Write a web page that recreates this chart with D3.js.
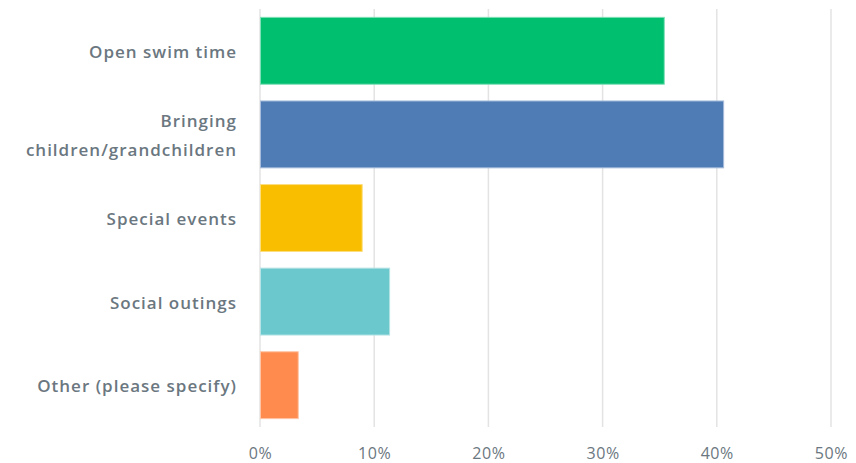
<!DOCTYPE html>
<html><head><meta charset="utf-8">
<script src="https://cdn.jsdelivr.net/npm/d3@7"></script>
<style>body{margin:0;background:#fff}svg{display:block}</style>
</head><body><svg id="c" width="856" height="463"></svg>
<script>
const categories = [["Open swim time"], ["Bringing", "children/grandchildren"], ["Special events"], ["Social outings"], ["Other (please specify)"]];
const values = [35.4, 40.6, 8.95, 11.35, 3.35];
const colors = ["#00bf6f", "#507cb6", "#f9be00", "#6bc8cd", "#ff8b4f"];
const strokes = ["#7fdfb7", "#a7bddb", "#fcde7f", "#b5e3e6", "#ffc5a7"];
const ticks = [0, 10, 20, 30, 40, 50];

const svg = d3.select("#c");
const x = d3.scaleLinear().domain([0, 50]).range([260, 831]);
const y = d3.scaleBand().domain(d3.range(categories.length)).range([9, 427]).paddingInner(0.2).paddingOuter(0.1);
const textColor = "#6b7780";
const font = "'Open Sans', sans-serif";

// gridlines
svg.append("g").selectAll("line").data(ticks).join("line")
  .attr("x1", d => x(d)).attr("x2", d => x(d))
  .attr("y1", 9).attr("y2", 427)
  .attr("stroke", "#e3e3e3").attr("stroke-width", 1.5);

// bars
svg.append("g").selectAll("rect").data(values).join("rect")
  .attr("x", x(0) + 0.5).attr("y", (d, i) => y(i))
  .attr("width", d => x(d) - x(0) - 0.5).attr("height", y.bandwidth())
  .attr("fill", (d, i) => colors[i]).attr("stroke", (d, i) => strokes[i]).attr("stroke-width", 1);

// category labels
const lx = 237;
const lab = svg.append("g").selectAll("text").data(categories).join("text")
  .attr("text-anchor", "end").attr("fill", textColor)
  .attr("font-family", font).attr("font-size", 17).attr("font-weight", 600)
  .attr("letter-spacing", "1px")
  .attr("x", lx)
  .attr("y", (d, i) => y(i) + y.bandwidth() / 2 + 1);
lab.each(function(d) {
  const t = d3.select(this);
  const n = d.length;
  d.forEach((line, j) => {
    t.append("tspan").attr("x", lx)
      .attr("dy", j === 0 ? ((-(n - 1) / 2) * 1.7 + 0.35) + "em" : "1.7em")
      .text(line);
  });
});

// x axis tick labels
svg.append("g").selectAll("text").data(ticks).join("text")
  .attr("x", d => x(d) + 0.5).attr("y", 458.5)
  .attr("text-anchor", "middle").attr("fill", textColor)
  .attr("font-family", font).attr("font-size", 16)
  .attr("letter-spacing", "0.6px")
  .text(d => d + "%");
</script></body></html>
